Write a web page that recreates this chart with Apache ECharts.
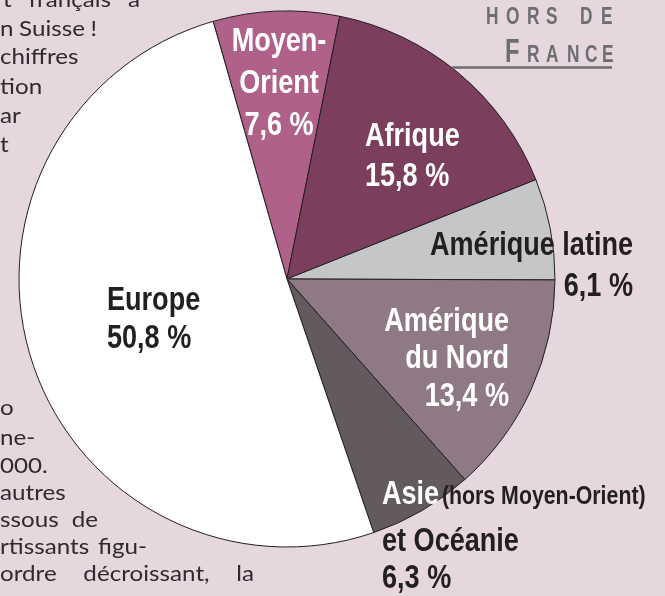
<!DOCTYPE html>
<html>
<head>
<meta charset="utf-8">
<script src="https://cdn.jsdelivr.net/npm/echarts@6/dist/echarts.min.js"></script>
<style>
  html, body { margin: 0; padding: 0; background: #e6d6de; }
  #chart { width: 665px; height: 596px; }
</style>
</head>
<body>
<div id="chart"></div>
<script>
// regions, clockwise from just left of 12 o'clock
const REGIONS = ["Moyen-Orient", "Afrique", "Amérique latine", "Amérique du Nord", "Asie et Océanie", "Europe"];
const SHARES = [7.6, 15.8, 6.1, 13.4, 6.3, 50.8];
const SLICE_COLORS = ["#b0618a", "#7b3f5d", "#c5c6c8", "#8f7985", "#625a5f", "#ffffff"];

// label lines shown for each slice (share added by formatter)
const LABEL_LINES = [
  ["Moyen-", "Orient"],
  ["Afrique"],
  ["Amérique latine"],
  ["Amérique", "du Nord"],
  ["Asie", "et Océanie"],
  ["Europe"],
];

// bits of the surrounding article text (justified column, cut by the image edge)
const TEXT_TOP = ["t français à", "n Suisse !", "chiffres", "tion", "ar", "t"];
const TEXT_BOTTOM = ["o", "ne-", "000.", "autres", "ssous de", "rtissants figu-", "ordre décroissant, la"];
const TOP_RIGHT = [140, 97, null, null, null, null];
const BOTTOM_RIGHT = [null, null, null, null, 98, 147, 254];

const BOLD = "'Liberation Sans', Arial, sans-serif";
const NARROW = 0.82; // squeeze Liberation Sans Bold to a condensed face
const DARK = "#231f20";
const GREY = "#6d6e70";

const fmtShare = (v) => v.toFixed(1).replace(".", ",") + " %";

// label block anchors: [x, top y, align]
const LABEL_POS = [
  [279, 21, "center"],
  [365, 117, "left"],
  [633, 225, "right"],
  [509, 303, "right"],
  [382, 466, "left"],
  [107, 282, "left"],
];
const LINE_H = [42, 40, 41, 37.5, 37, 38];
const LABEL_COLOR = ["#fff", "#fff", DARK, "#fff", DARK, DARK];

function makeLabel(i) {
  const rich = {
    t: { fontFamily: BOLD, fontWeight: "bold", fontSize: 33, lineHeight: LINE_H[i], fill: LABEL_COLOR[i] },
  };
  let lines = LABEL_LINES[i].map((s) => `{t|${s}}`);
  if (i === 4) {
    // Asie: first word white inside the slice, the note in small dark type
    rich.a = { fontFamily: BOLD, fontWeight: "bold", fontSize: 33, lineHeight: 57, fill: "#fff" };
    rich.s = { fontFamily: BOLD, fontWeight: "bold", fontSize: 26, lineHeight: 51, fill: DARK, padding: [5, 0, 0, 0] };
    lines = [`{a|${LABEL_LINES[i][0]}} {s|(hors Moyen-Orient)}`, `{t|${LABEL_LINES[i][1]}}`];
  }
  lines.push(`{t|${fmtShare(SHARES[i])}}`);
  return {
    type: "text", z: 20, silent: true,
    x: LABEL_POS[i][0], y: LABEL_POS[i][1], scaleX: NARROW,
    style: { text: lines.join("\n"), rich, align: LABEL_POS[i][2], verticalAlign: "top" },
  };
}

const chart = echarts.init(document.getElementById("chart"), null, { renderer: "canvas" });

const graphics = [];
const bodyFont = "22px Lato, 'Open Sans', sans-serif";
const BODY_WIDEN = 1.1;
const measure = document.createElement("canvas").getContext("2d");
measure.font = bodyFont;

// place one line of body text, spreading words out to a right edge when justified
function bodyLine(text, x0, baseline, right) {
  const words = text.split(" ");
  const widths = words.map((w) => measure.measureText(w).width * BODY_WIDEN);
  const used = widths.reduce((a, b) => a + b, 0);
  const gap = right != null && words.length > 1
    ? (right - x0 - used) / (words.length - 1)
    : measure.measureText(" ").width * BODY_WIDEN;
  let x = x0;
  words.forEach((w, k) => {
    graphics.push({
      type: "text", z: 0, silent: true, x, y: baseline - 8.5, scaleX: BODY_WIDEN,
      style: { text: w, font: bodyFont, fill: "#2f2a2d", align: "left", verticalAlign: "middle" },
    });
    x += widths[k] + gap;
  });
}
const TOP_BASE = [8, 37, 65, 95, 124, 153];
const BOTTOM_BASE = [416, 446, 474, 501, 528, 555, 582];
TEXT_TOP.forEach((s, i) => bodyLine(s, i === 0 ? 3 : 0, TOP_BASE[i], TOP_RIGHT[i]));
TEXT_BOTTOM.forEach((s, i) => bodyLine(s, 0, BOTTOM_BASE[i], BOTTOM_RIGHT[i]));

// "HORS DE FRANCE" heading, letter-spaced
const HEAD1 = ["H", "O", "R", "S", "D", "E"];
const HEAD1_X = [486, 506, 527, 546, 580, 601];
const HEAD2 = ["F", "R", "A", "N", "C", "E"];
const HEAD2_X = [505, 527, 546, 567, 585, 602];
HEAD1.forEach((c, i) => graphics.push({
  type: "text", z: 10, silent: true, x: HEAD1_X[i], y: 26 - 24 * 0.3465, scaleX: 0.72,
  style: { text: c, font: `bold 24px ${BOLD}`, fill: GREY, align: "left", verticalAlign: "middle" },
}));
HEAD2.forEach((c, i) => {
  const fs = i === 0 ? 33 : 24;
  graphics.push({
    type: "text", z: 10, silent: true, x: HEAD2_X[i], y: 64 - fs * 0.3465, scaleX: 0.72,
    style: { text: c, font: `bold ${fs}px ${BOLD}`, fill: GREY, align: "left", verticalAlign: "middle" },
  });
});
graphics.push({
  type: "line", z: 10, silent: true,
  shape: { x1: 452, y1: 67.5, x2: 612, y2: 67.5 },
  style: { stroke: GREY, lineWidth: 2.5 },
});

REGIONS.forEach((_, i) => graphics.push(makeLabel(i)));

chart.setOption({
  backgroundColor: "#e6d6de",
  animation: false,
  graphic: graphics,
  series: [{
    type: "pie",
    center: [287, 279],
    radius: 268,
    startAngle: 106,
    clockwise: true,
    silent: true,
    label: { show: false },
    labelLine: { show: false },
    itemStyle: { borderColor: DARK, borderWidth: 1 },
    emphasis: { disabled: true },
    data: REGIONS.map((name, i) => ({
      name,
      value: SHARES[i],
      itemStyle: { color: SLICE_COLORS[i] },
    })),
  }],
});
</script>
</body>
</html>
